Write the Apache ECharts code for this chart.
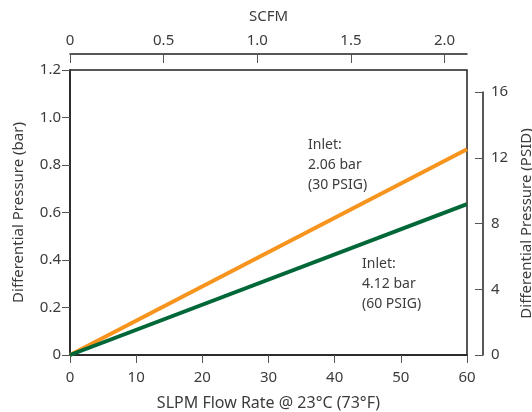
<!DOCTYPE html>
<html>
<head>
<meta charset="utf-8">
<script src="https://cdn.jsdelivr.net/npm/echarts@6/dist/echarts.min.js"></script>
<style>html,body{margin:0;padding:0;background:#fff}#c{width:532px;height:412px}</style>
</head>
<body>
<div id="c"></div>
<script>
// Data
const slpm = [0, 60];
const dp30 = [0, 0.866];   // bar, inlet 2.06 bar (30 PSIG)
const dp60 = [0, 0.635];   // bar, inlet 4.12 bar (60 PSIG)
const barTicks = [0, 0.2, 0.4, 0.6, 0.8, 1.0, 1.2];
const psidTicks = [0, 4, 8, 12, 16];
const scfmTicks = [0, 0.5, 1.0, 1.5, 2.0];
const slpmTicks = [0, 10, 20, 30, 40, 50, 60];
const label30 = ['Inlet:', '2.06 bar', '(30 PSIG)'];
const label60 = ['Inlet:', '4.12 bar', '(60 PSIG)'];

const FONT = 'Noto Sans';
const TXT = '#3c3c3c';
const AX = '#231f20';
const TK = '#555';
const fmt1 = v => v === 0 ? '0' : v.toFixed(1);

const chart = echarts.init(document.getElementById('c'));
chart.setOption({
  animation: false,
  textStyle: { fontFamily: FONT },
  grid: [
    { left: 70, right: 65, top: 70, bottom: 57, show: true, borderColor: AX, borderWidth: 1.5, containLabel: false, outerBoundsMode: 'none' },
    { left: 70, right: 49, top: 92, bottom: 57, show: false, containLabel: false, outerBoundsMode: 'none' }
  ],
  xAxis: [
    {
      type: 'value', gridIndex: 0, position: 'bottom', min: 0, max: 60,
      name: 'SLPM Flow Rate @ 23°C (73°F)', nameLocation: 'middle', nameGap: 40,
      nameTextStyle: { fontSize: 16, color: TXT, fontFamily: FONT },
      axisLine: { show: true, onZero: false, lineStyle: { color: AX, width: 1.5 } },
      axisTick: { show: true, inside: false, length: 8, customValues: slpmTicks, lineStyle: { color: TK } },
      axisLabel: { fontSize: 15, color: TXT, margin: 15, fontFamily: FONT, customValues: slpmTicks },
      splitLine: { show: false }
    },
    {
      type: 'value', gridIndex: 0, position: 'top', offset: 16, min: 0, max: 2.12,
      name: 'SCFM', nameLocation: 'middle', nameGap: 30,
      nameTextStyle: { fontSize: 15, color: TXT, fontFamily: FONT },
      axisLine: { show: true, onZero: false, lineStyle: { color: AX, width: 1.5 } },
      axisTick: { show: true, inside: true, length: 9, customValues: scfmTicks, lineStyle: { color: TK } },
      axisLabel: { fontSize: 15, color: TXT, margin: 6, fontFamily: FONT, customValues: scfmTicks, formatter: fmt1 },
      splitLine: { show: false }
    },
    { type: 'value', gridIndex: 1, min: 0, max: 60, show: false }
  ],
  yAxis: [
    {
      type: 'value', gridIndex: 0, position: 'left', min: 0, max: 1.2,
      name: 'Differential Pressure (bar)', nameLocation: 'middle', nameGap: 44,
      nameTextStyle: { fontSize: 15, color: TXT, fontFamily: FONT },
      axisLine: { show: true, onZero: false, lineStyle: { color: AX, width: 1.5 } },
      axisTick: { show: true, inside: false, length: 8, customValues: barTicks, lineStyle: { color: TK } },
      axisLabel: { fontSize: 15, color: TXT, margin: 9, fontFamily: FONT, customValues: barTicks, formatter: fmt1 },
      splitLine: { show: false }
    },
    {
      type: 'value', gridIndex: 1, position: 'right', min: 0, max: 16,
      name: 'Differential Pressure (PSID)', nameLocation: 'middle', nameGap: 32,
      nameTextStyle: { fontSize: 15, color: TXT, fontFamily: FONT },
      axisLine: { show: true, onZero: false, lineStyle: { color: AX, width: 1.5 } },
      axisTick: { show: true, inside: true, length: 8, customValues: psidTicks, lineStyle: { color: TK } },
      axisLabel: { fontSize: 15, color: TXT, margin: 8, fontFamily: FONT, customValues: psidTicks },
      splitLine: { show: false }
    }
  ],
  series: [
    {
      type: 'line', xAxisIndex: 0, yAxisIndex: 0, symbol: 'none',
      data: slpm.map((x, i) => [x, dp30[i]]),
      lineStyle: { color: '#F7941D', width: 4 }, z: 3
    },
    {
      type: 'line', xAxisIndex: 0, yAxisIndex: 0, symbol: 'none',
      data: slpm.map((x, i) => [x, dp60[i]]),
      lineStyle: { color: '#006838', width: 4 }, z: 4
    }
  ],
  graphic: [
    { type: 'text', left: 308, top: 135, style: { text: label30.join('\n'), fontSize: 14, lineHeight: 20, fill: TXT, fontFamily: FONT } },
    { type: 'text', left: 362, top: 254, style: { text: label60.join('\n'), fontSize: 14, lineHeight: 20, fill: TXT, fontFamily: FONT } }
  ]
});
</script>
</body>
</html>
